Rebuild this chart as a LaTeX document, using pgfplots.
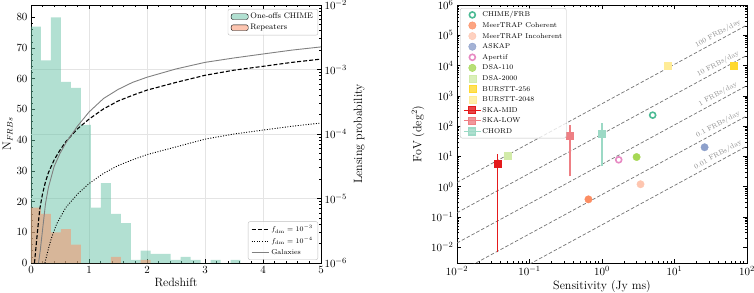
\documentclass[border=0pt]{standalone}
\usepackage{pgfplots}
\pgfplotsset{compat=1.18}
\definecolor{sgreen}{HTML}{66C2A5}
\definecolor{sorange}{HTML}{FC8D62}
\definecolor{sblue}{HTML}{8DA0CB}
\definecolor{spink}{HTML}{E78AC3}
\definecolor{slime}{HTML}{A6D854}
\definecolor{syellow}{HTML}{FFD92F}
\definecolor{skared}{HTML}{E41A1C}
\definecolor{skalow}{HTML}{EE7F84}
\definecolor{chordc}{HTML}{9CD9C5}
\definecolor{chimeg}{HTML}{4DBB95}
\definecolor{gridc}{HTML}{E4E4E4}
\pgfplotsset{
 base/.style={
  scale only axis, width=290pt, height=258pt,
  tick align=inside,
  major tick length=4pt, minor tick length=2pt,
  every tick/.append style={black, line width=0.6pt},
  axis line style={line width=0.9pt},
  tick label style={font=\fontsize{10.8}{12}\selectfont},
  label style={font=\fontsize{12}{14}\selectfont},
  xlabel shift=-2pt,
 },
 lg/.style={draw=black!25, rounded corners=2pt, fill=white, fill opacity=0.8, text opacity=1, cells={anchor=west}},
}
\begin{document}
\begin{tikzpicture}
% ---------------- left panel: histogram ----------------
\begin{axis}[base, at={(0pt,0pt)}, anchor=south west,
 xmin=0, xmax=5, ymin=0, ymax=84,
 xtick={0,1,2,3,4,5}, ytick={0,10,...,80},
 minor x tick num=4, minor y tick num=4,
 xtick pos=both, ytick pos=left,
 xmajorgrids, grid style={gridc, line width=0.5pt},
 extra y ticks={21,42,63}, extra y tick labels={},
 extra y tick style={grid=major, major tick length=0pt},
 xlabel={Redshift}, ylabel={$\mathrm{N}_{FRBs}$}, ylabel shift=-3pt,
 legend style={lg, at={(0.99,0.985)}, anchor=north east, font=\fontsize{8}{9}\selectfont},
 legend cell align=left,
]
\addplot[ybar interval, fill=sgreen, fill opacity=0.5, draw=none, area legend] coordinates {
(0,77) (0.172,66) (0.344,80) (0.516,59) (0.688,57) (0.86,45) (1.032,18) (1.204,26)
(1.376,16) (1.548,13) (1.72,1) (1.892,4) (2.064,3) (2.236,3) (2.408,1) (2.58,2)
(2.752,1) (2.924,0) (3.096,1) (3.268,0) (3.44,1) (3.612,0)};
\addlegendentry{One-offs CHIME}
\addplot[ybar interval, fill=sorange, fill opacity=0.5, draw=none, area legend] coordinates {
(0,18) (0.172,16) (0.344,10) (0.516,11) (0.688,6) (0.86,0) (1.032,0) (1.204,0)
(1.376,2) (1.548,0) (1.72,0) (1.892,1) (2.064,0)};
\addlegendentry{Repeaters}
\end{axis}
% ---------------- left panel: lensing probability ----------------
\begin{axis}[base, at={(0pt,0pt)}, anchor=south west,
 xmin=0, xmax=5, ymode=log, ymin=1e-6, ymax=1e-2,
 axis x line=none, axis y line*=right,
 ytick={1e-6,1e-5,1e-4,1e-3,1e-2},
 ylabel={Lensing probability},
 legend style={lg, at={(0.99,0.012)}, anchor=south east, font=\fontsize{7}{8}\selectfont},
 legend cell align=left,
]
\addplot[black, line width=1.1pt, dash pattern=on 4pt off 2pt] coordinates {
(0.06,1.0e-6) (0.1,2.40e-6) (0.15,6.76e-6) (0.2,1.20e-5) (0.25,1.82e-5) (0.3,2.51e-5)
(0.4,3.98e-5) (0.5,5.62e-5) (0.6,7.59e-5) (0.8,1.20e-4) (1.0,1.70e-4) (1.25,2.45e-4)
(1.5,3.24e-4) (1.75,3.98e-4) (2.0,4.79e-4) (2.5,6.31e-4) (3.0,8.13e-4) (3.5,9.77e-4)
(4.0,1.12e-3) (4.5,1.29e-3) (5.0,1.45e-3)};
\addlegendentry{$f_{\rm dm} = 10^{-3}$}
\addplot[black, line width=0.9pt, dash pattern=on 1pt off 1.6pt] coordinates {
(0.24,1.0e-6) (0.3,1.66e-6) (0.35,2.40e-6) (0.44,3.98e-6) (0.5,5.01e-6) (0.6,7.24e-6)
(0.8,1.17e-5) (1.0,1.70e-5) (1.25,2.45e-5) (1.5,3.24e-5) (1.75,3.98e-5) (2.0,4.79e-5)
(2.5,6.31e-5) (3.0,8.32e-5) (3.5,1.00e-4) (4.0,1.15e-4) (4.5,1.32e-4) (5.0,1.48e-4)};
\addlegendentry{$f_{\rm dm} = 10^{-4}$}
\addplot[gray, line width=0.9pt] coordinates {
(0.13,1.0e-6) (0.16,1.58e-6) (0.2,3.31e-6) (0.25,8.32e-6) (0.3,1.48e-5) (0.4,3.16e-5)
(0.5,5.01e-5) (0.6,7.24e-5) (0.8,1.32e-4) (1.0,2.19e-4) (1.25,3.55e-4) (1.5,4.90e-4)
(1.75,6.31e-4) (2.0,7.59e-4) (2.5,1.02e-3) (3.0,1.29e-3) (3.5,1.51e-3) (4.0,1.74e-3)
(4.5,2.00e-3) (5.0,2.24e-3)};
\addlegendentry{Galaxies}
\end{axis}
% ---------------- right panel ----------------
\begin{axis}[base, at={(426pt,0pt)}, anchor=south west,
 xmode=log, ymode=log, xmin=1e-2, xmax=1e2, ymin=3e-3, ymax=1e6,
 xtick={1e-2,1e-1,1,1e1,1e2}, ytick={1e-2,1e-1,1,1e1,1e2,1e3,1e4,1e5,1e6},
 xlabel={Sensitivity (Jy ms)}, ylabel={FoV (deg$^2$)},
 legend style={lg, at={(0.0104,0.988)}, anchor=north west, font=\fontsize{7}{8}\selectfont,
   nodes={inner sep=1pt, text height=5.6pt, text depth=1.6pt}, row sep=1.4pt},
 legend cell align=left,
]
\pgfplotsset{rl/.style={color=black!55, line width=0.7pt, dash pattern=on 3.5pt off 2pt, forget plot}}
\addplot[rl] coordinates {(0.01,1.377) (100,218270)};
\addplot[rl] coordinates {(0.01,0.1377) (100,21827)};
\addplot[rl] coordinates {(0.01,0.01377) (100,2182.7)};
\addplot[rl] coordinates {(0.01,0.001377) (100,218.27)};
\addplot[rl] coordinates {(0.01,0.0001377) (100,21.827)};
\tikzset{fl/.style={rotate=28.6, font=\fontsize{7}{8}\selectfont, text=black!45, anchor=south, inner sep=2.5pt}}
\node[fl] at (axis cs:43.7,74430) {100 FRBs/day};
\node[fl] at (axis cs:43.7,7443) {10 FRBs/day};
\node[fl] at (axis cs:43.7,744.3) {1 FRBs/day};
\node[fl] at (axis cs:43.7,74.43) {0.1 FRBs/day};
\node[fl] at (axis cs:43.7,7.443) {0.01 FRBs/day};
% error bars
\addplot[color=skared, mark=none, line width=1.4pt, forget plot] coordinates {(0.036,0.0067) (0.036,12)};
\addplot[color=skalow, mark=none, line width=1.4pt, forget plot] coordinates {(0.36,2.2) (0.36,108)};
\addplot[color=chordc, mark=none, line width=1.4pt, forget plot] coordinates {(1.0,4.8) (1.0,128)};
% points
\addplot[only marks, mark=o, mark size=3pt, line width=1.6pt, color=chimeg, forget plot] coordinates {(5,230)};
\addplot[only marks, mark=*, mark size=3.7pt, color=sorange, forget plot] coordinates {(0.65,0.38)};
\addplot[only marks, mark=*, mark size=3.7pt, color=sorange!50, forget plot] coordinates {(3.4,1.2)};
\addplot[only marks, mark=*, mark size=3.7pt, color=sblue, forget plot] coordinates {(26,20)};
\addplot[only marks, mark=o, mark size=3pt, line width=1.6pt, color=spink, forget plot] coordinates {(1.7,7.7)};
\addplot[only marks, mark=*, mark size=3.7pt, color=slime, forget plot] coordinates {(3.0,9.5)};
\addplot[only marks, mark=square*, mark size=3.5pt, color=slime!50, forget plot] coordinates {(0.05,10.2)};
\addplot[only marks, mark=square*, mark size=3.5pt, color=syellow, forget plot] coordinates {(66,9900)};
\addplot[only marks, mark=square*, mark size=3.5pt, color=syellow!50, forget plot] coordinates {(8.1,10000)};
\addplot[only marks, mark=square*, mark size=3.5pt, color=skared, forget plot] coordinates {(0.036,5.8)};
\addplot[only marks, mark=square*, mark size=3.5pt, color=skalow, forget plot] coordinates {(0.36,49)};
\addplot[only marks, mark=square*, mark size=3.5pt, color=chordc, forget plot] coordinates {(1.0,57)};
% legend
\addlegendimage{only marks, mark=o, mark size=3pt, line width=1.6pt, color=chimeg}
\addlegendentry{CHIME/FRB}
\addlegendimage{only marks, mark=*, mark size=3.7pt, color=sorange}
\addlegendentry{MeerTRAP Coherent}
\addlegendimage{only marks, mark=*, mark size=3.7pt, color=sorange!50}
\addlegendentry{MeerTRAP Incoherent}
\addlegendimage{only marks, mark=*, mark size=3.7pt, color=sblue}
\addlegendentry{ASKAP}
\addlegendimage{only marks, mark=o, mark size=3pt, line width=1.6pt, color=spink}
\addlegendentry{Apertif}
\addlegendimage{only marks, mark=*, mark size=3.7pt, color=slime}
\addlegendentry{DSA-110}
\addlegendimage{only marks, mark=square*, mark size=3.5pt, color=slime!50}
\addlegendentry{DSA-2000}
\addlegendimage{only marks, mark=square*, mark size=3.5pt, color=syellow}
\addlegendentry{BURSTT-256}
\addlegendimage{only marks, mark=square*, mark size=3.5pt, color=syellow!50}
\addlegendentry{BURSTT-2048}
\addlegendimage{color=skared, line width=1.2pt, mark=square*, mark size=3.5pt}
\addlegendentry{SKA-MID}
\addlegendimage{color=skalow, line width=1.2pt, mark=square*, mark size=3.5pt}
\addlegendentry{SKA-LOW}
\addlegendimage{color=chordc, line width=1.2pt, mark=square*, mark size=3.5pt}
\addlegendentry{CHORD}
\end{axis}
\pgfresetboundingbox
\useasboundingbox (-31pt,-29pt) rectangle (723pt,263pt);
\end{tikzpicture}
\end{document}
